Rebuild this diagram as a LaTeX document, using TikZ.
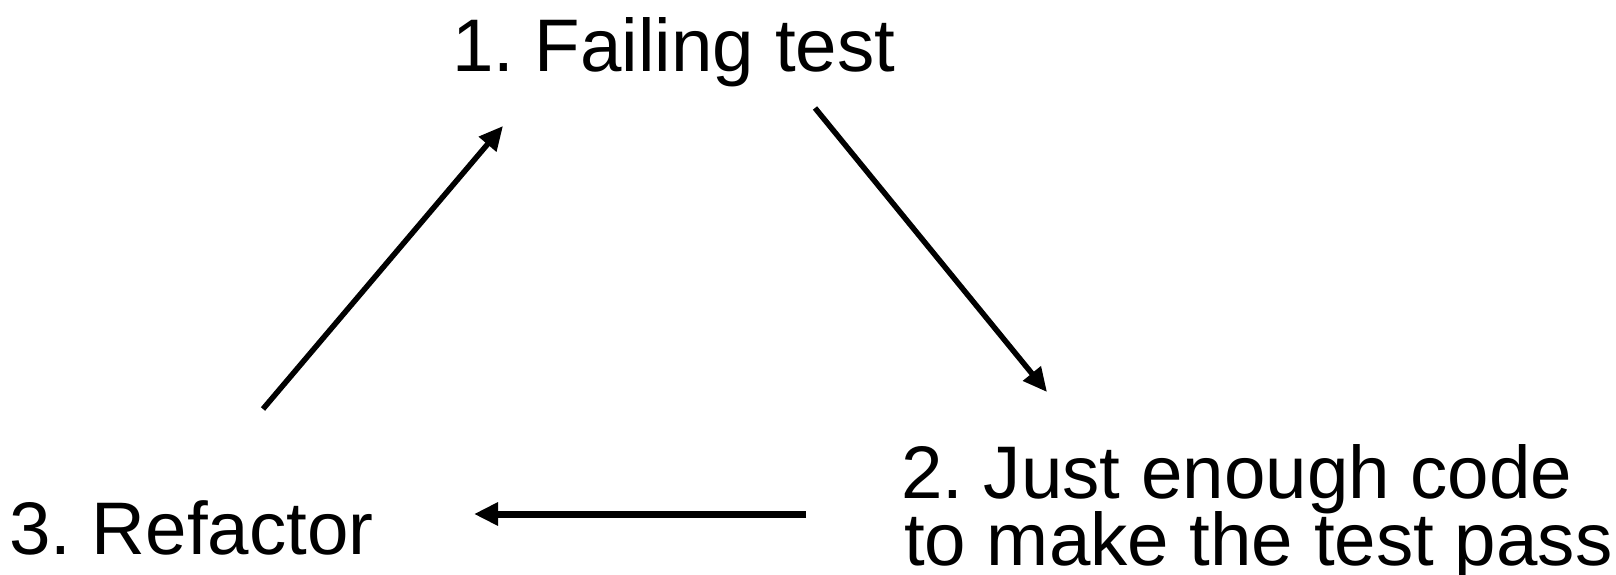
\documentclass[tikz,border=0pt]{standalone}
\usepackage{fontspec}
\setmainfont{Liberation Sans}
\usetikzlibrary{arrows.meta}
\begin{document}
\frenchspacing
\begin{tikzpicture}[x=1pt,y=-1pt,
  lbl/.style={anchor=base west,inner sep=0pt,font=\fontsize{74.5}{67}\selectfont},
  conn/.style={line width=5.5pt,-{Triangle[length=24pt,width=22pt]}}]
\useasboundingbox (0,0) rectangle (1616,575);
\node[lbl] (fail) at (452,72) {1. Failing test};
\node[lbl] (ref) at (9,554) {3. Refactor};
\node[lbl] (just) at (901,498) {2. Just enough code};
\node[lbl] (pass) at (904,565) {to make the test pass};
\coordinate (a1s) at (263,409);
\coordinate (a1e) at (503,126);
\coordinate (a2s) at (815,108);
\coordinate (a2e) at (1047,392);
\coordinate (a3s) at (806,514);
\coordinate (a3e) at (474,514);
\draw[conn] (a1s) -- (a1e);
\draw[conn] (a2s) -- (a2e);
\draw[conn,line width=7pt] (a3s) -- (a3e);
\end{tikzpicture}
\end{document}
